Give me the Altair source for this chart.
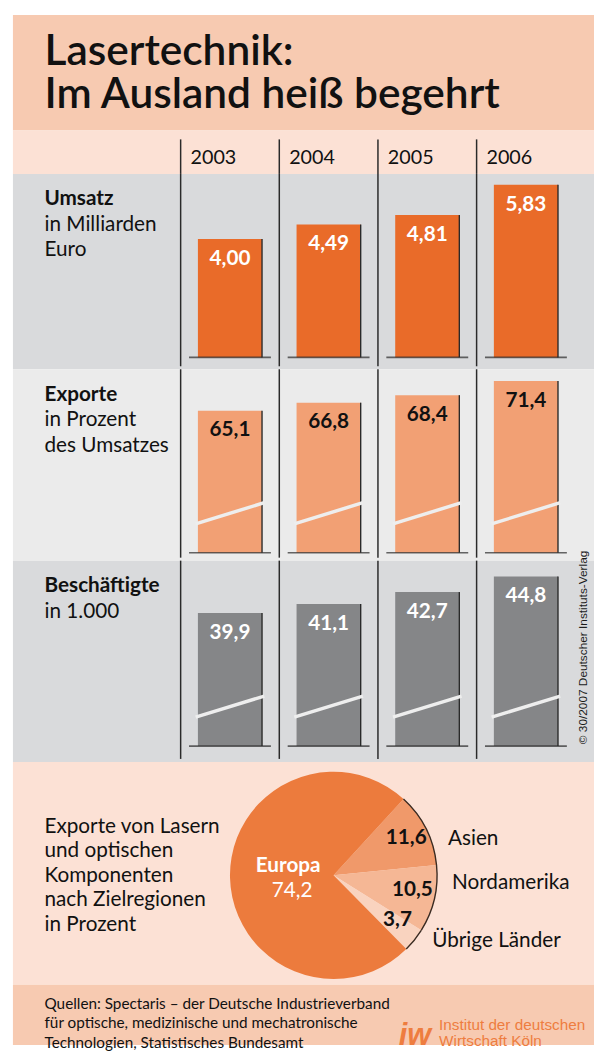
import math
import altair as alt
import pandas as pd

# ---------------- data ----------------
years = ["2003", "2004", "2005", "2006"]
umsatz = [4.00, 4.49, 4.81, 5.83]
exporte = [65.1, 66.8, 68.4, 71.4]
beschaeftigte = [39.9, 41.1, 42.7, 44.8]
regionen = ["Asien", "Nordamerika", "Übrige Länder", "Europa"]
anteile = [11.6, 10.5, 3.7, 74.2]

FONT = "Lato"
W = 589
DARK = "#2a2a2a"

xscale = alt.Scale(domain=years, range=[170, 570], paddingInner=0, paddingOuter=0)


def de(v, d):
    return f"{v:.{d}f}".replace(".", ",")


def one():
    return pd.DataFrame({"k": [0]})


def txt(text, x, y, size=20, weight="normal", color="#111111", align="left",
        font=FONT, line_height=None, angle=None, baseline="alphabetic", italic=False):
    kw = dict(fontSize=size, fontWeight=weight, color=color, align=align,
              baseline=baseline, font=font)
    if line_height is not None:
        kw["lineHeight"] = line_height
    if angle is not None:
        kw["angle"] = angle
    if italic:
        kw["fontStyle"] = "italic"
    return alt.Chart(one()).mark_text(**kw).encode(
        x=alt.value(x), y=alt.value(y), text=alt.value(text))


# ---------------- title ----------------
title = alt.layer(
    txt(["Lasertechnik:", "Im Ausland heiß begehrt"], 32, 51, size=43, weight=600,
        line_height=43),
).properties(width=W, height=117,
             view=alt.ViewBackground(fill="#F7CAB1", stroke=None))

# ---------------- year header ----------------
ydf = pd.DataFrame({"year": years})
year_head = alt.layer(
    alt.Chart(ydf).mark_rule(color=DARK, strokeWidth=1.5).encode(
        x=alt.X("year:N", scale=xscale, axis=None, bandPosition=0),
        y=alt.value(9), y2=alt.value(44)),
    alt.Chart(ydf).mark_text(align="left", baseline="alphabetic", fontSize=20,
                             font=FONT, color="#111111", dx=10).encode(
        x=alt.X("year:N", scale=xscale, axis=None, bandPosition=0),
        y=alt.value(34), text="year:N"),
).properties(width=W, height=44,
             view=alt.ViewBackground(fill="#FCE1D5", stroke=None))


# ---------------- bar panels ----------------
def bar_panel(values, decimals, domain, base_px, h, bar_color, label_color,
              heading, sub, broken):
    df = pd.DataFrame({"year": years, "value": values,
                       "label": [de(v, decimals) for v in values],
                       "base": [domain[0]] * len(values)})
    ys = alt.Scale(domain=domain, range=[base_px, 0], zero=False, nice=False)
    Xc = alt.X("year:N", scale=xscale, axis=None, bandPosition=0.5)
    Y = alt.Y("value:Q", scale=ys, axis=None)
    base = alt.Chart(df)
    layers = [
        base.mark_rule(color=DARK, strokeWidth=1.5).encode(
            x=alt.X("year:N", scale=xscale, axis=None, bandPosition=0),
            y=alt.value(0), y2=alt.value(h - 3)),
        base.mark_bar(width=65, color=bar_color).encode(x=Xc, y=Y, y2="base:Q"),
        base.mark_rule(color=DARK, strokeWidth=1.4, xOffset=32.5).encode(
            x=Xc, y=Y, y2="base:Q"),
        base.mark_tick(orient="horizontal", size=83, thickness=1.6, color=DARK).encode(
            x=Xc, y=alt.Y("base:Q", scale=ys, axis=None)),
    ]
    if broken:
        layers.append(
            base.mark_point(shape="M-1.07,0.33L1.07,-0.33", size=65 * 65, filled=False,
                            color="#EEEEEE", strokeWidth=3.5, opacity=1).encode(
                x=Xc, y=alt.value(base_px - 40)))
    layers.append(
        base.mark_text(dy=26, baseline="alphabetic", fontSize=21, fontWeight="bold",
                       font=FONT, color=label_color).encode(x=Xc, y=Y, text="label:N"))
    layers.append(txt(heading, 32, 32, size=21, weight="bold"))
    layers.append(txt(sub, 32, 58, size=21, line_height=25.5))
    return layers


umsatz_layers = bar_panel(umsatz, 2, [0, 6.2], 186, 198, "#E96B29", "white",
                          "Umsatz", ["in Milliarden", "Euro"], False)
umsatz_panel = alt.layer(*umsatz_layers).properties(
    width=W, height=198, view=alt.ViewBackground(fill="#D9DADC", stroke=None))

export_layers = bar_panel(exporte, 1, [34.85, 73.92], 186, 194, "#F2A074",
                          "#111111", "Exporte", ["in Prozent", "des Umsatzes"], True)
export_panel = alt.layer(*export_layers).properties(
    width=W, height=194, view=alt.ViewBackground(fill="#EBEBEB", stroke=None))

besch_layers = bar_panel(beschaeftigte, 1, [22.02, 46.92], 188, 204, "#858688",
                         "white", "Beschäftigte", ["in 1.000"], True)
besch_layers.append(txt("© 30/2007 Deutscher Instituts-Verlag", 578, 88, size=12,
                        font="Liberation Sans", angle=270, align="center",
                        baseline="middle", color="#1a1a1a"))
besch_panel = alt.layer(*besch_layers).properties(
    width=W, height=204, view=alt.ViewBackground(fill="#D9DADC", stroke=None))

# ---------------- pie ----------------
CX, CY, R = 325, 115, 105
start = math.radians(42.5)
pie_df = pd.DataFrame({"region": regionen, "share": anteile,
                       "order": list(range(len(regionen))),
                       "label": [de(v, 1) for v in anteile]})
theta = alt.Theta("share:Q", stack=True,
                  scale=alt.Scale(range=[start, start + 2 * math.pi]))
order = alt.Order("order:Q")
pbase = alt.Chart(pie_df)
pie_layers = [
    pbase.mark_arc(radius=R).encode(
        theta=theta, order=order, x=alt.value(CX), y=alt.value(CY),
        color=alt.Color("region:N", legend=None,
                        scale=alt.Scale(domain=regionen,
                                        range=["#F0996A", "#F5B795", "#F9D3BF", "#EC7B3D"]))),
    pbase.mark_arc(radius=R + 0.6, radius2=R - 0.8).encode(
        theta=theta, order=order, x=alt.value(CX), y=alt.value(CY),
        color=alt.condition("datum.region !== 'Europa'", alt.value("#3a2b22"),
                            alt.value("rgba(0,0,0,0)"))),
    pbase.transform_filter("datum.region !== 'Europa'").mark_text(
        radius=78, fontSize=21, fontWeight="bold", font=FONT, color="#111111",
        baseline="middle", dy=-3, dx=4).encode(
        theta=theta, order=order, x=alt.value(CX), y=alt.value(CY), text="label:N"),
    txt("Europa", 292 - 13, 876 - 764, size=21, weight="bold", color="white", align="center"),
    txt(de(anteile[3], 1), 296 - 13, 901 - 764, size=21, color="white", align="center"),
    txt("Asien", 454 - 13, 848 - 764, size=21),
    txt("Nordamerika", 458 - 13, 893 - 764, size=21),
    txt("Übrige Länder", 438 - 13, 952 - 764, size=21),
    txt(["Exporte von Lasern", "und optischen", "Komponenten",
         "nach Zielregionen", "in Prozent"], 32, 836 - 764, size=21, line_height=24.8),
]
pie_panel = alt.layer(*pie_layers).properties(
    width=W, height=226, view=alt.ViewBackground(fill="#FCE1D5", stroke=None))

# ---------------- footer ----------------
footer = alt.layer(
    txt(["Quellen: Spectaris – der Deutsche Industrieverband",
         "für optische, medizinische und mechatronische",
         "Technologien, Statistisches Bundesamt"], 32, 24, size=15.5, line_height=20),
    txt("iw", 404 - 13, 1051 - 990, size=31, weight="bold", italic=True,
        color="#EE7D3F", font="Liberation Sans"),
    txt(["Institut der deutschen", "Wirtschaft Köln"], 445 - 13, 1036 - 990, size=15.5,
        color="#EE7D3F", font="Liberation Sans", line_height=16),
).properties(width=W, height=61,
             view=alt.ViewBackground(fill="#F7CAB1", stroke=None))

chart = alt.vconcat(title, year_head, umsatz_panel, export_panel, besch_panel,
                    pie_panel, footer, spacing=0, bounds="flush").properties(
    padding={"left": 5, "top": 0, "right": 0, "bottom": 0}
).configure_view(stroke=None)

chart.save("out.html", embed_options={"renderer": "svg", "actions": False})
